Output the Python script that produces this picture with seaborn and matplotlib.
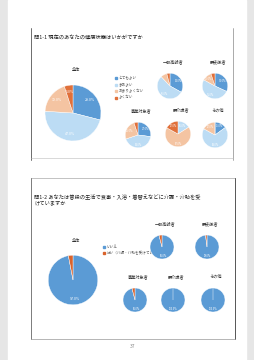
import numpy as np
import pandas as pd
import seaborn as sns
import matplotlib.pyplot as plt
from matplotlib.patches import Rectangle

# question 1: health status
q1_title = "問1-1 現在のあなたの健康状態はいかがですか"
q1_labels = ["とてもよい", "まあよい", "あまりよくない", "よくない"]
q1_groups = ["全体", "一般高齢者", "要支援者", "事業対象者", "要介護者", "その他"]
q1_values = [
    [29, 47, 19, 5],
    [33, 55, 8, 4],
    [32, 51, 12, 5],
    [27, 43, 25, 5],
    [0, 16, 67, 17],
    [15, 68, 17, 0],
]

# question 2: receives care
q2_title = "問1-2 あなたは普段の生活で食事・入浴・着替えなどに介護・介助を受\nけていますか"
q2_labels = ["いいえ", "はい（介護・介助を受けている）"]
q2_groups = ["全体", "一般高齢者", "要支援者", "事業対象者", "要介護者", "その他"]
q2_values = [
    [97, 3],
    [96, 4],
    [98, 2],
    [96, 4],
    [100, 0],
    [100, 0],
]
page_no = "37"

sns.set_theme(style="white")
plt.rcParams['font.family'] = ['Noto Sans CJK JP', 'DejaVu Sans']

q1_colors = ["#5b9bd5", "#bcdcf4", "#f4c4a2", "#e0703a"]
q2_colors = ["#5b9bd5", "#d9632c"]

W, H = 254, 360
fig = plt.figure(figsize=(W / 100, H / 100), dpi=100)

bg = fig.add_axes([0, 0, 1, 1])
bg.set_xlim(0, W)
bg.set_ylim(H, 0)
bg.axis("off")
bg.add_patch(Rectangle((0, 0), W, H, color="#e6e6e6"))
bg.add_patch(Rectangle((8, 0), 238, H, color="white"))
# frames
bg.plot([31, 31], [28, 160], color="#555555", lw=0.6)
bg.plot([233, 233], [28, 160], color="#888888", lw=0.5)
bg.plot([31, 233], [158, 158], color="#bbbbbb", lw=0.4)
bg.plot([31, 235], [178, 178], color="#aaaaaa", lw=0.5)
bg.plot([31, 31], [178, 339], color="#666666", lw=0.6)
bg.plot([235, 235], [178, 339], color="#555555", lw=0.7)
bg.plot([31, 235], [339, 339], color="#999999", lw=0.5)
bg.text(34, 37, q1_title, fontsize=3.8, va="center", ha="left", color="#222222")
bg.text(34, 200, q2_title, fontsize=3.8, va="center", ha="left", color="#222222",
        linespacing=1.1)
bg.text(133, 347, page_no, fontsize=3.5, ha="center", va="center", color="#888888")


def draw_pie(cx, cy, r, vals, colors, title, fs, cut):
    ax = fig.add_axes([(cx - r) / W, 1 - (cy + r) / H, 2 * r / W, 2 * r / H])
    ax.pie(vals, colors=colors, startangle=90, counterclock=False,
           wedgeprops=dict(linewidth=0.3, edgecolor="white"),
           autopct=lambda p: f"{p:.1f}%" if p >= cut else "",
           pctdistance=0.75, textprops=dict(fontsize=fs, color="white"))
    ax.set_aspect("equal")
    bg.text(cx + 3, cy - r - 8, title, fontsize=3, ha="center", va="center", color="#333333")
    return ax


q1_pos = [(73, 113, 35), (170, 86, 16), (215, 86, 16),
          (138, 135, 16), (178, 134, 16), (215, 135, 16)]
for (cx, cy, r), vals, name in zip(q1_pos, q1_values, q1_groups):
    big = r > 20
    draw_pie(cx, cy, r, vals, q1_colors, name, 2.6 if big else 1.8, 4 if big else 10)

q2_pos = [(73, 280, 31), (162, 247, 15), (207, 247, 15),
          (135, 300, 15), (173, 300, 15), (213, 300, 15)]
for (cx, cy, r), vals, name in zip(q2_pos, q2_values, q2_groups):
    big = r > 20
    draw_pie(cx, cy, r, vals, q2_colors, name, 2.6 if big else 1.8, 4 if big else 10)

# legends
for i, (lab, c) in enumerate(zip(q1_labels, q1_colors)):
    bg.add_patch(Rectangle((115, 77 + i * 6.5), 2, 2, color=c))
    bg.text(118.5, 78 + i * 6.5, lab, fontsize=2.6, va="center", color="#555555")
for i, (lab, c) in enumerate(zip(q2_labels, q2_colors)):
    bg.add_patch(Rectangle((103, 246 + i * 6), 2, 2, color=c))
    bg.text(106.5, 247 + i * 6, lab, fontsize=2.6, va="center", color="#555555")

fig.savefig("out.png", dpi=100)
